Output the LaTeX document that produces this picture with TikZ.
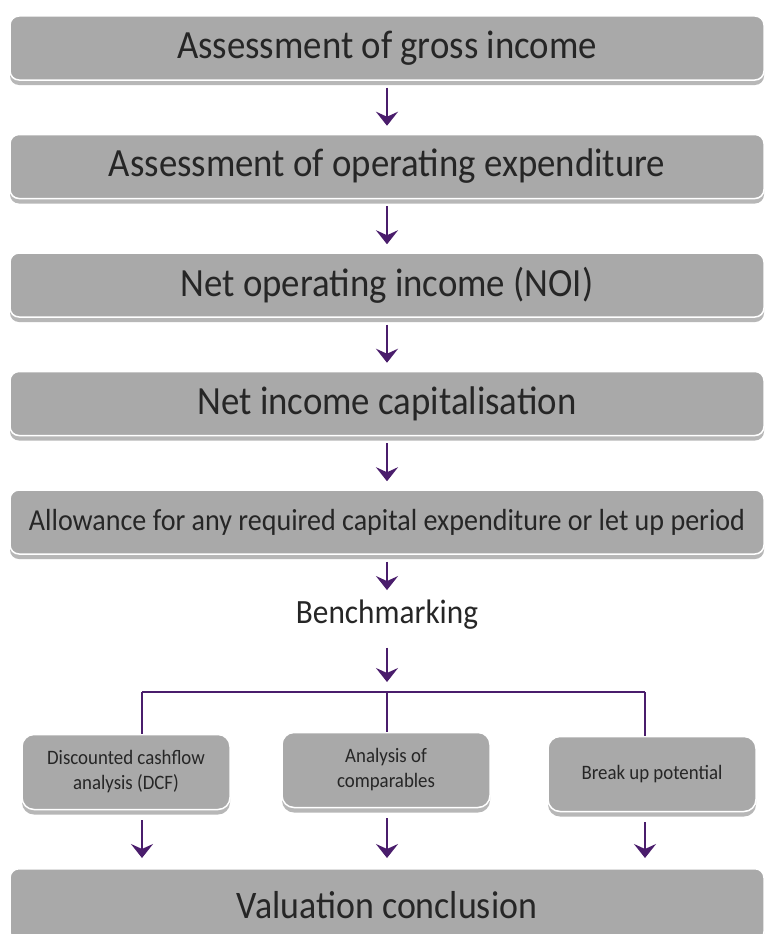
\documentclass[tikz,border=0pt]{standalone}
\usepackage{fontspec}
\setmainfont[FakeStretch=0.92]{Carlito}
\usetikzlibrary{arrows.meta,positioning,shadows}

\definecolor{flowpurple}{HTML}{4A1D6C}
\definecolor{boxgray}{HTML}{A9A9A9}

\begin{document}
\begin{tikzpicture}[
    x=1pt, y=-1pt,
    box/.style={draw=white, line width=1.5pt, rounded corners=9pt, fill=boxgray, text=black!85, drop shadow={shadow xshift=0pt, shadow yshift=-5pt, opacity=0.4, fill=black!70}, align=center, inner sep=2pt},
    stage/.style={box, minimum width=754pt, minimum height=64pt, font=\fontsize{40}{46}\selectfont},
    method/.style={box, minimum width=208pt, minimum height=75pt, rounded corners=12pt, font=\fontsize{20.5}{25}\selectfont},
    arrow/.style={-{Stealth[length=14pt, width=22pt, inset=5pt]}, line width=2.2pt, draw=flowpurple, fill=flowpurple, shorten <=7pt, shorten >=8pt},
    link/.style={line width=2.2pt, draw=flowpurple}
  ]
    \fill[white] (0,0) rectangle (765,934);
    \useasboundingbox (0,0) rectangle (765,934);

    \node[stage] (gross) at (387,48) {Assessment of gross income};
    \node[stage, below=53pt of gross] (opex) {Assessment of operating expenditure};
    \node[stage, below=53pt of opex] (noi) {Net operating income (NOI)};
    \node[stage, below=53pt of noi] (capit) {Net income capitalisation};
    \node[stage, below=53pt of capit, font=\fontsize{30.5}{34}\selectfont] (capex) {Allowance for any required capital expenditure or let up period};
    \node[font=\fontsize{34}{40}\selectfont, text=black!85, inner sep=0pt] (bench) at (387,615) {Benchmarking};

    \coordinate (lbranch) at (142,692);
    \coordinate (split) at (387,692);
    \coordinate (rbranch) at (645,692);

    \node[method] (dcf) at (126,772) {Discounted cashflow\\analysis (DCF)};
    \node[method] (comps) at (386,770) {Analysis of\\comparables};
    \node[method] (breakup) at (652,774) {Break up potential};
    \node[stage, minimum height=72pt, anchor=north, font=\fontsize{39}{44}\selectfont] (final) at (387,868) {Valuation conclusion};

    \draw[arrow] (gross) -- (opex);
    \draw[arrow] (opex) -- (noi);
    \draw[arrow] (noi) -- (capit);
    \draw[arrow] (capit) -- (capex);
    \draw[arrow, shorten >=10pt] (capex) -- (bench);
    \draw[arrow, shorten <=18pt, shorten >=10pt] (bench) -- (split);

    \draw[link] (lbranch) -- (rbranch);
    \draw[link] (lbranch) -- (dcf.north -| lbranch);
    \draw[link] (split) -- (comps.north -| split);
    \draw[link] (rbranch) -- (breakup.north -| rbranch);

    \draw[arrow, shorten <=10pt, shorten >=10pt] (dcf.south -| lbranch) -- (final.north -| lbranch);
    \draw[arrow, shorten <=10pt, shorten >=10pt] (comps.south -| split) -- (final.north -| split);
    \draw[arrow, shorten <=10pt, shorten >=10pt] (breakup.south -| rbranch) -- (final.north -| rbranch);
  \end{tikzpicture}
\end{document}
